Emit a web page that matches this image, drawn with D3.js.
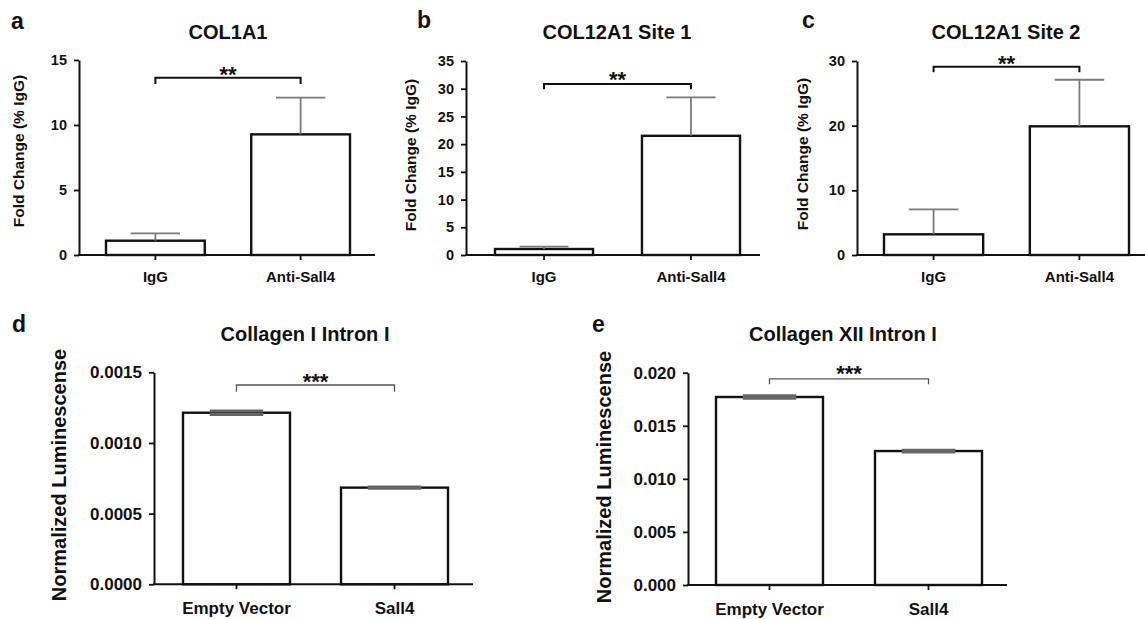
<!DOCTYPE html>
<html><head><meta charset="utf-8">
<script src="https://cdn.jsdelivr.net/npm/d3@7"></script>
<style>
body{margin:0;background:#fff}
svg{display:block}
text{font-family:"Liberation Sans",Arial,Helvetica,sans-serif;font-weight:bold;fill:#111}
</style>
</head><body>
<svg id="c" width="1145" height="619"></svg>
<script>
// ---------- data ----------
const catsTop = ["IgG", "Anti-Sall4"];
const catsBottom = ["Empty Vector", "Sall4"];
const meanA = [1.1, 9.28],   errA = [0.57, 2.82];
const meanB = [1.08, 21.5],  errB = [0.42, 6.95];
const meanC = [3.2, 19.9],   errC = [3.86, 7.2];
const meanD = [0.001214, 0.000684], errD = [0.000012, 0.000004];
const meanE = [0.01771, 0.01262],   errE = [0.00012, 0.00008];
const ticksA = [0, 5, 10, 15];
const ticksB = [0, 5, 10, 15, 20, 25, 30, 35];
const ticksC = [0, 10, 20, 30];
const ticksD = [0, 0.0005, 0.0010, 0.0015];
const ticksE = [0, 0.005, 0.010, 0.015, 0.020];
const titles = ["COL1A1", "COL12A1 Site 1", "COL12A1 Site 2", "Collagen I Intron I", "Collagen XII Intron I"];
const letters = ["a", "b", "c", "d", "e"];
const yLabels = ["Fold Change (% IgG)", "Fold Change (% IgG)", "Fold Change (% IgG)", "Normalized Luminescense", "Normalized Luminescense"];
const sigLabels = ["**", "**", "**", "***", "***"];
const bracketLevels = [13.64, 30.85, 29.12, 0.00141, 0.01941];

// ---------- layout ----------
const panels = [
  {cats: catsTop, mean: meanA, err: errA, ticks: ticksA, fmt: d3.format("d"),
   ax: 79, axEnd: 375, bandL: 106, bandR: 350, pi: 0.32, y0: 255, yT: 60,
   tickFs: 14.5, tickPad: 7, xFs: 15, xPad: 11, letterX: 11, letterY: 29, letterFs: 23,
   titleX: 228, titleY: 39, titleFs: 20, ylX: 23.5, ylY: 151, ylFs: 15.5,
   starY: 81.5, starFs: 22, brTick: 6.3, top: true},
  {cats: catsTop, mean: meanB, err: errB, ticks: ticksB, fmt: d3.format("d"),
   ax: 466, axEnd: 760, bandL: 495, bandR: 740, pi: 0.333, y0: 255, yT: 61,
   tickFs: 14.5, tickPad: 7, xFs: 15, xPad: 11, letterX: 417, letterY: 28, letterFs: 23,
   titleX: 617, titleY: 39, titleFs: 20, ylX: 416, ylY: 155, ylFs: 15.5,
   starY: 86.5, starFs: 22, brTick: 5.3, top: true},
  {cats: catsTop, mean: meanC, err: errC, ticks: ticksC, fmt: d3.format("d"),
   ax: 857, axEnd: 1145, bandL: 884, bandR: 1129, pi: 0.32, y0: 255, yT: 61,
   tickFs: 14.5, tickPad: 7, xFs: 15, xPad: 11, letterX: 802, letterY: 28, letterFs: 23,
   titleX: 1006, titleY: 39, titleFs: 20, ylX: 807.5, ylY: 154, ylFs: 15.5,
   starY: 70.5, starFs: 22, brTick: 5.6, top: true},
  {cats: catsBottom, mean: meanD, err: errD, ticks: ticksD, fmt: d3.format(".4f"),
   ax: 154, axEnd: 473, bandL: 183, bandR: 448, pi: 0.323, y0: 584.3, yT: 372.3,
   tickFs: 17, tickPad: 7, xFs: 17, xPad: 12.5, letterX: 12, letterY: 332, letterFs: 23,
   titleX: 305, titleY: 341, titleFs: 20, ylX: 66, ylY: 475, ylFs: 20,
   starY: 389, starFs: 22, brTick: 6.7, top: false},
  {cats: catsBottom, mean: meanE, err: errE, ticks: ticksE, fmt: d3.format(".3f"),
   ax: 688, axEnd: 1007, bandL: 716, bandR: 982, pi: 0.327, y0: 585, yT: 372.7,
   tickFs: 17, tickPad: 7, xFs: 17, xPad: 12.5, letterX: 592, letterY: 332, letterFs: 23,
   titleX: 843, titleY: 341, titleFs: 20, ylX: 611, ylY: 477, ylFs: 20,
   starY: 381, starFs: 22, brTick: 5.3, top: false}
];

const svg = d3.select("#c");
const ink = "#111";

panels.forEach((p, i) => {
  const g = svg.append("g");
  const x = d3.scaleBand().domain(p.cats).range([p.bandL, p.bandR])
              .paddingInner(p.pi).paddingOuter(0);
  const y = d3.scaleLinear().domain([0, p.ticks[p.ticks.length - 1]]).range([p.y0, p.yT]);
  const bw = x.bandwidth();
  const data = p.cats.map((c, k) => ({c, v: p.mean[k], e: p.err[k]}));

  // bars
  g.selectAll("rect.bar").data(data).join("rect").attr("class", "bar")
    .attr("x", d => x(d.c)).attr("width", bw)
    .attr("y", d => y(d.v)).attr("height", d => y(0) - y(d.v))
    .attr("fill", "#fff").attr("stroke", ink).attr("stroke-width", 2.4);

  // error bars
  const errCol = p.top ? "#7a7a7a" : "#666";
  g.selectAll("line.ev").data(data).join("line").attr("class", "ev")
    .attr("x1", d => x(d.c) + bw / 2).attr("x2", d => x(d.c) + bw / 2)
    .attr("y1", d => p.top ? y(d.v) : y(d.v - d.e)).attr("y2", d => y(d.v + d.e))
    .attr("stroke", p.top ? errCol : ink).attr("stroke-width", p.top ? 1.8 : 1.5);
  g.selectAll("line.ecap").data(data).join("line").attr("class", "ecap")
    .attr("x1", d => x(d.c) + bw * 0.25).attr("x2", d => x(d.c) + bw * 0.75)
    .attr("y1", d => y(d.v + d.e)).attr("y2", d => y(d.v + d.e))
    .attr("stroke", errCol).attr("stroke-width", p.top ? 1.8 : 3);
  if (!p.top) {
    g.selectAll("line.ecap2").data(data).join("line").attr("class", "ecap2")
      .attr("x1", d => x(d.c) + bw * 0.25).attr("x2", d => x(d.c) + bw * 0.75)
      .attr("y1", d => y(d.v - d.e)).attr("y2", d => y(d.v - d.e))
      .attr("stroke", errCol).attr("stroke-width", 3);
  }

  // y axis
  const yAxis = g.append("g").attr("transform", `translate(${p.ax},0)`)
    .call(d3.axisLeft(y).tickValues(p.ticks).tickFormat(p.fmt)
      .tickSize(5).tickSizeOuter(0).tickPadding(p.tickPad));
  yAxis.select(".domain").attr("stroke", ink).attr("stroke-width", 2);
  yAxis.selectAll(".tick line").attr("stroke", ink).attr("stroke-width", 1.8);
  yAxis.selectAll(".tick text").attr("font-size", p.tickFs).attr("fill", ink)
    .attr("font-family", "Liberation Sans, Arial, sans-serif").attr("font-weight", "bold");

  // x axis
  const xAxis = g.append("g").attr("transform", `translate(0,${p.y0})`)
    .call(d3.axisBottom(x).tickSize(5).tickSizeOuter(0).tickPadding(p.xPad).offset(0));
  xAxis.select(".domain").remove();
  xAxis.selectAll(".tick line").attr("stroke", ink).attr("stroke-width", 1.8);
  xAxis.selectAll(".tick text").attr("font-size", p.xFs).attr("fill", ink)
    .attr("font-family", "Liberation Sans, Arial, sans-serif").attr("font-weight", "bold");
  g.append("line").attr("x1", p.ax - 1).attr("x2", p.axEnd)
    .attr("y1", p.y0).attr("y2", p.y0).attr("stroke", ink).attr("stroke-width", 2);

  // significance bracket
  const c1 = x(p.cats[0]) + bw / 2, c2 = x(p.cats[1]) + bw / 2;
  const by = y(bracketLevels[i]);
  g.append("path")
    .attr("d", `M${c1},${by + p.brTick}V${by}H${c2}V${by + p.brTick}`)
    .attr("fill", "none")
    .attr("stroke", p.top ? ink : "#555")
    .attr("stroke-width", p.top ? 2 : 1.3);
  g.append("text").attr("x", (c1 + c2) / 2).attr("y", p.starY)
    .attr("text-anchor", "middle").attr("font-size", p.starFs).text(sigLabels[i]);

  // title, letter, y label
  g.append("text").attr("x", p.titleX).attr("y", p.titleY).attr("text-anchor", "middle")
    .attr("font-size", p.titleFs).text(titles[i]);
  g.append("text").attr("x", p.letterX).attr("y", p.letterY)
    .attr("font-size", p.letterFs).text(letters[i]);
  g.append("text").attr("transform", `translate(${p.ylX},${p.ylY}) rotate(-90)`)
    .attr("text-anchor", "middle").attr("font-size", p.ylFs).text(yLabels[i]);
});
</script>
</body></html>
